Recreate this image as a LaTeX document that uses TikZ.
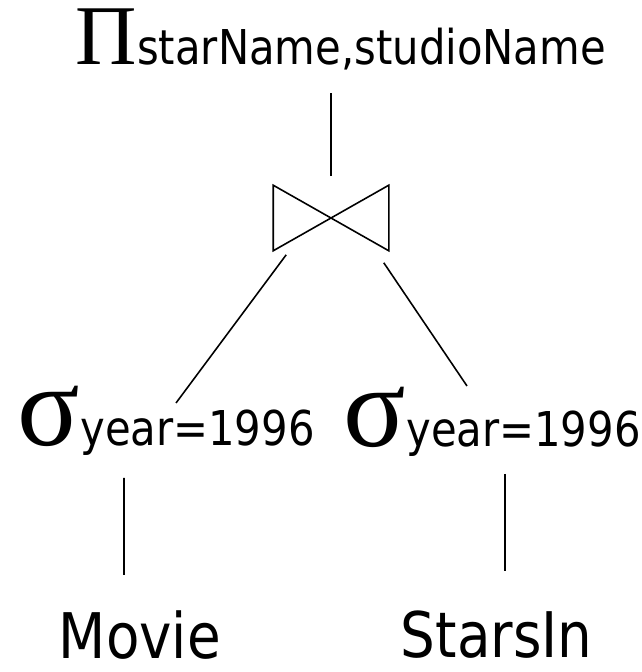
\documentclass[tikz,border=0pt]{standalone}
\usepackage{fontspec}
\setsansfont[FakeStretch=0.87]{DejaVu Sans}
\newfontfamily\greekfont{Liberation Serif}
\begin{document}
\begin{tikzpicture}[line width=0.9pt,
    op/.style={anchor=base west, inner sep=0pt},
    rel/.style={anchor=base west, inner sep=0pt, font=\sffamily\fontsize{35.8}{40}\selectfont}]
        \useasboundingbox (0,0) rectangle (12.84,13.44);
        \node[op] (proj) at (1.50, 12.14) {{\greekfont\fontsize{48.4}{50}\selectfont Π}{\sffamily\fontsize{27.3}{30}\selectfont starName,studioName}};
        \node[minimum width=2.28cm, minimum height=1.28cm, inner sep=0pt] (join) at (6.62, 9.08) {};
        \node[op] (selL) at (0.34, 4.52) {{\greekfont\fontsize{66}{68}\selectfont σ}{\sffamily\fontsize{27.3}{30}\selectfont year=1996}};
        \node[op] (selR) at (6.86, 4.50) {{\greekfont\fontsize{66}{68}\selectfont σ}{\sffamily\fontsize{27.3}{30}\selectfont year=1996}};
        \node[rel] (movie) at (1.16, 0.28) {Movie};
        \node[rel] (stars) at (8.00, 0.30) {StarsIn};
        \draw (join.north west) -- (join.south east) -- (join.north east) -- (join.south west) -- cycle;
        \draw[shorten <=0.18cm, shorten >=0.56cm] (join.north) -- (join.north |- proj.base);
        \draw ([shift={(0.26,-0.08)}]join.south west) -- ([shift={(3.18,0.86)}]selL.base west);
        \draw ([shift={(-0.10,-0.24)}]join.south east) -- ([shift={(2.48,1.22)}]selR.base west);
        \draw ([shift={(2.14,-0.64)}]selL.base west) -- ([shift={(1.32,1.66)}]movie.base west);
        \draw ([shift={(3.24,-0.54)}]selR.base west) -- ([shift={(2.10,1.72)}]stars.base west);
        \end{tikzpicture}
\end{document}
